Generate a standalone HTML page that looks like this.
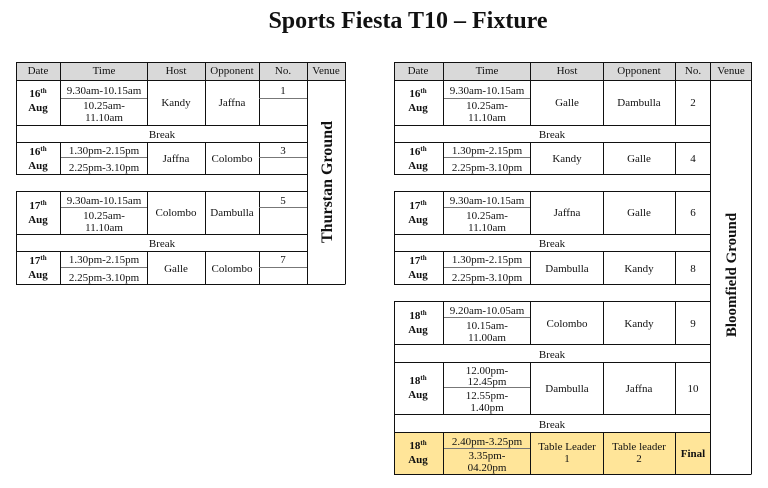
<!DOCTYPE html>
<html><head><meta charset="utf-8"><style>
html,body{margin:0;padding:0;background:#fff;}
svg{display:block;font-family:"Liberation Serif",serif;}
text{font-size:11px;fill:#111;}
.b{font-weight:bold;}
.c{text-anchor:middle;}
.l{stroke:#111;stroke-width:1;fill:none;}
.g{stroke:#777;stroke-width:1;}
</style></head><body>
<svg width="768" height="488" viewBox="0 0 768 488" xmlns="http://www.w3.org/2000/svg">
<text x="408" y="28" class="b c" style="font-size:24px">Sports Fiesta T10 – Fixture</text>

<!-- LEFT TABLE -->
<g>
<rect x="16" y="62" width="329" height="18" fill="#d9d9d9"/>
<g class="l">
<rect x="16.5" y="62.5" width="329" height="18"/>
<path d="M60.5 62v18M147.5 62v18M205.5 62v18M259.5 62v18M307.5 62v222"/>
<path d="M345.5 62v222M307 284.5h38.5"/>
<rect x="16.5" y="80.5" width="291" height="45"/>
<path d="M60.5 80v45M147.5 80v45M205.5 80v45M259.5 80v45"/>
<rect x="16.5" y="125.5" width="291" height="17"/>
<rect x="16.5" y="142.5" width="291" height="32"/>
<path d="M60.5 142v32M147.5 142v32M205.5 142v32M259.5 142v32"/>
<path d="M16 191.5h291"/>
<rect x="16.5" y="191.5" width="291" height="43"/>
<path d="M60.5 191v43M147.5 191v43M205.5 191v43M259.5 191v43"/>
<rect x="16.5" y="234.5" width="291" height="17"/>
<rect x="16.5" y="251.5" width="291" height="33"/>
<path d="M60.5 251v33M147.5 251v33M205.5 251v33M259.5 251v33"/>
</g>
<path class="g" d="M61 98.5h86M259 98.5h48M61 157.5h86M259 157.5h48M61 207.5h86M259 207.5h48M61 267.5h86M259 267.5h48"/>
<text class="c" y="74"><tspan x="38">Date</tspan><tspan x="104">Time</tspan><tspan x="176">Host</tspan><tspan x="232">Opponent</tspan><tspan x="283">No.</tspan><tspan x="326">Venue</tspan></text>

<text class="b c" x="38" y="97">16<tspan style="font-size:7px" dy="-4">th</tspan></text><text class="b c" x="38" y="111">Aug</text>
<text class="c" x="104" y="94">9.30am-10.15am</text><text class="c" x="104" y="109">10.25am-</text><text class="c" x="104" y="121">11.10am</text>
<text class="c" x="176" y="106">Kandy</text><text class="c" x="232" y="106">Jaffna</text><text class="c" x="283" y="94">1</text>
<text class="c" x="162" y="138">Break</text>
<text class="b c" x="38" y="155">16<tspan style="font-size:7px" dy="-4">th</tspan></text><text class="b c" x="38" y="169">Aug</text>
<text class="c" x="104" y="154">1.30pm-2.15pm</text><text class="c" x="104" y="171">2.25pm-3.10pm</text>
<text class="c" x="176" y="162">Jaffna</text><text class="c" x="232" y="162">Colombo</text><text class="c" x="283" y="154">3</text>
<text class="b c" x="38" y="209">17<tspan style="font-size:7px" dy="-4">th</tspan></text><text class="b c" x="38" y="223">Aug</text>
<text class="c" x="104" y="204">9.30am-10.15am</text><text class="c" x="104" y="219">10.25am-</text><text class="c" x="104" y="231">11.10am</text>
<text class="c" x="176" y="216">Colombo</text><text class="c" x="232" y="216">Dambulla</text><text class="c" x="283" y="204">5</text>
<text class="c" x="162" y="247">Break</text>
<text class="b c" x="38" y="264">17<tspan style="font-size:7px" dy="-4">th</tspan></text><text class="b c" x="38" y="278">Aug</text>
<text class="c" x="104" y="263">1.30pm-2.15pm</text><text class="c" x="104" y="281">2.25pm-3.10pm</text>
<text class="c" x="176" y="272">Galle</text><text class="c" x="232" y="272">Colombo</text><text class="c" x="283" y="263">7</text>
<text class="b c" transform="translate(332,182) rotate(-90)" style="font-size:16px">Thurstan Ground</text>
</g>

<!-- RIGHT TABLE -->
<g>
<rect x="394" y="62" width="357" height="18" fill="#d9d9d9"/>
<rect x="394" y="432" width="316" height="42" fill="#ffe599"/>
<g class="l">
<rect x="394.5" y="62.5" width="357" height="18"/>
<path d="M443.5 62v18M530.5 62v18M603.5 62v18M675.5 62v18M710.5 62v412"/>
<path d="M751.5 62v412M710 474.5h41.5"/>
<rect x="394.5" y="80.5" width="316" height="45"/>
<path d="M443.5 80v45M530.5 80v45M603.5 80v45M675.5 80v45"/>
<rect x="394.5" y="125.5" width="316" height="17"/>
<rect x="394.5" y="142.5" width="316" height="32"/>
<path d="M443.5 142v32M530.5 142v32M603.5 142v32M675.5 142v32"/>
<rect x="394.5" y="191.5" width="316" height="43"/>
<path d="M443.5 191v43M530.5 191v43M603.5 191v43M675.5 191v43"/>
<rect x="394.5" y="234.5" width="316" height="17"/>
<rect x="394.5" y="251.5" width="316" height="33"/>
<path d="M443.5 251v33M530.5 251v33M603.5 251v33M675.5 251v33"/>
<rect x="394.5" y="301.5" width="316" height="43"/>
<path d="M443.5 301v43M530.5 301v43M603.5 301v43M675.5 301v43"/>
<rect x="394.5" y="344.5" width="316" height="18"/>
<rect x="394.5" y="362.5" width="316" height="52"/>
<path d="M443.5 362v52M530.5 362v52M603.5 362v52M675.5 362v52"/>
<rect x="394.5" y="414.5" width="316" height="18"/>
<rect x="394.5" y="432.5" width="316" height="42"/>
<path d="M443.5 432v42M530.5 432v42M603.5 432v42M675.5 432v42"/>
</g>
<path class="g" d="M444 98.5h86M444 157.5h86M444 207.5h86M444 267.5h86M444 317.5h86M444 387.5h86M444 448.5h86"/>
<text class="c" y="74"><tspan x="418">Date</tspan><tspan x="487">Time</tspan><tspan x="567">Host</tspan><tspan x="639">Opponent</tspan><tspan x="693">No.</tspan><tspan x="731">Venue</tspan></text>

<text class="b c" x="418" y="97">16<tspan style="font-size:7px" dy="-4">th</tspan></text><text class="b c" x="418" y="111">Aug</text>
<text class="c" x="487" y="94">9.30am-10.15am</text><text class="c" x="487" y="109">10.25am-</text><text class="c" x="487" y="121">11.10am</text>
<text class="c" x="567" y="106">Galle</text><text class="c" x="639" y="106">Dambulla</text><text class="c" x="693" y="106">2</text>
<text class="c" x="552" y="138">Break</text>
<text class="b c" x="418" y="155">16<tspan style="font-size:7px" dy="-4">th</tspan></text><text class="b c" x="418" y="169">Aug</text>
<text class="c" x="487" y="154">1.30pm-2.15pm</text><text class="c" x="487" y="171">2.25pm-3.10pm</text>
<text class="c" x="567" y="162">Kandy</text><text class="c" x="639" y="162">Galle</text><text class="c" x="693" y="162">4</text>
<text class="b c" x="418" y="209">17<tspan style="font-size:7px" dy="-4">th</tspan></text><text class="b c" x="418" y="223">Aug</text>
<text class="c" x="487" y="204">9.30am-10.15am</text><text class="c" x="487" y="219">10.25am-</text><text class="c" x="487" y="231">11.10am</text>
<text class="c" x="567" y="216">Jaffna</text><text class="c" x="639" y="216">Galle</text><text class="c" x="693" y="216">6</text>
<text class="c" x="552" y="247">Break</text>
<text class="b c" x="418" y="264">17<tspan style="font-size:7px" dy="-4">th</tspan></text><text class="b c" x="418" y="278">Aug</text>
<text class="c" x="487" y="263">1.30pm-2.15pm</text><text class="c" x="487" y="281">2.25pm-3.10pm</text>
<text class="c" x="567" y="272">Dambulla</text><text class="c" x="639" y="272">Kandy</text><text class="c" x="693" y="272">8</text>

<text class="b c" x="418" y="319">18<tspan style="font-size:7px" dy="-4">th</tspan></text><text class="b c" x="418" y="333">Aug</text>
<text class="c" x="487" y="314">9.20am-10.05am</text><text class="c" x="487" y="329">10.15am-</text><text class="c" x="487" y="341">11.00am</text>
<text class="c" x="567" y="327">Colombo</text><text class="c" x="639" y="327">Kandy</text><text class="c" x="693" y="327">9</text>
<text class="c" x="552" y="358">Break</text>
<text class="b c" x="418" y="384">18<tspan style="font-size:7px" dy="-4">th</tspan></text><text class="b c" x="418" y="398">Aug</text>
<text class="c" x="487" y="374">12.00pm-</text><text class="c" x="487" y="385">12.45pm</text><text class="c" x="487" y="399">12.55pm-</text><text class="c" x="487" y="411">1.40pm</text>
<text class="c" x="567" y="392">Dambulla</text><text class="c" x="639" y="392">Jaffna</text><text class="c" x="693" y="392">10</text>
<text class="c" x="552" y="428">Break</text>
<text class="b c" x="418" y="449">18<tspan style="font-size:7px" dy="-4">th</tspan></text><text class="b c" x="418" y="463">Aug</text>
<text class="c" x="487" y="445">2.40pm-3.25pm</text><text class="c" x="487" y="459">3.35pm-</text><text class="c" x="487" y="471">04.20pm</text>
<text class="c" x="567" y="450">Table Leader</text><text class="c" x="567" y="462">1</text>
<text class="c" x="639" y="450">Table leader</text><text class="c" x="639" y="462">2</text>
<text class="b c" x="693" y="457">Final</text>
<text class="b c" transform="translate(736,275) rotate(-90)" style="font-size:15px">Bloomfield Ground</text>
</g>
</svg>
</body></html>
